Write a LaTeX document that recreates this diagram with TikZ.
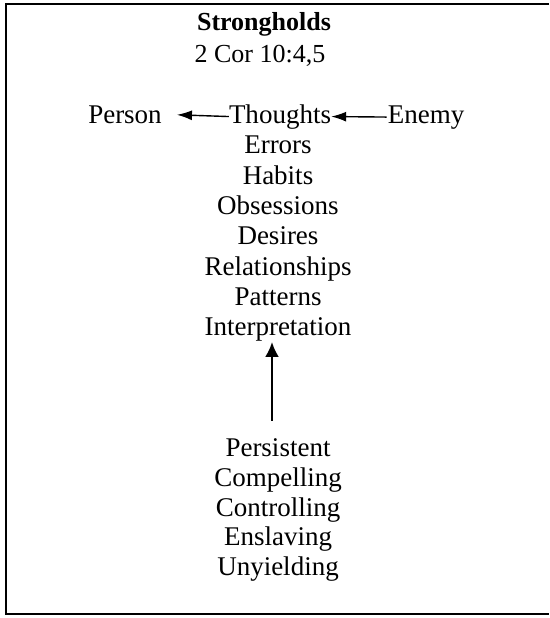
\documentclass[tikz,border=0pt]{standalone}
\usepackage{fontspec}
\setmainfont{Liberation Serif}
\usetikzlibrary{arrows.meta}

\tikzset{
    word/.style={inner sep=0pt, anchor=base, font=\fontsize{27}{29}\selectfont},
    head/.style={inner sep=0pt, anchor=base, font=\fontsize{26}{29}\selectfont},
    pointer/.style={-{Latex[length=15pt, width=10pt]}, line width=1.4pt},
}

\begin{document}
\begin{tikzpicture}[x=1pt, y=-1pt]
    \useasboundingbox (0,0) rectangle (549,618);

    % Frame, open on the right
    \draw[line width=2pt] (549,4) -- (6,4) -- (6,614) -- (549,614);

    % Title
    \node[head] at (264,31) (title) {\textbf{Strongholds}};
    \node[head] at (260,63) (verse) {2 Cor 10:4,5};

    % Person <- Thoughts <- Enemy
    \node[word] at (280,123) (thoughts) {Thoughts};
    \node[word] at (125,123) (person) {Person};
    \node[word] at (426,123) (enemy) {Enemy};
    \draw[pointer, shorten >=15pt] (thoughts.west) -- (person.east);
    \draw[pointer, shorten <=1pt] (enemy.west) -- (thoughts.east);

    % Forms of strongholds
    \node[word] at (278,153) (errors) {Errors};
    \node[word] at (278,184) (habits) {Habits};
    \node[word] at (278,214) (obsessions) {Obsessions};
    \node[word] at (278,244) (desires) {Desires};
    \node[word] at (278,275) (relationships) {Relationships};
    \node[word] at (278,305) (patterns) {Patterns};
    \node[word] at (278,335) (interpretation) {Interpretation};

    % Traits
    \node[word] at (278,456) (persistent) {Persistent};
    \node[word] at (278,486) (compelling) {Compelling};
    \node[word] at (278,516) (controlling) {Controlling};
    \node[word] at (278,545) (enslaving) {Enslaving};
    \node[word] at (278,575) (unyielding) {Unyielding};

    \draw[pointer, line width=2.4pt, -{Latex[length=15pt, width=14pt]},
          shorten <=17pt, shorten >=1pt]
        ([xshift=-6pt]persistent.north) -- ([xshift=-6pt]interpretation.south);
\end{tikzpicture}
\end{document}
